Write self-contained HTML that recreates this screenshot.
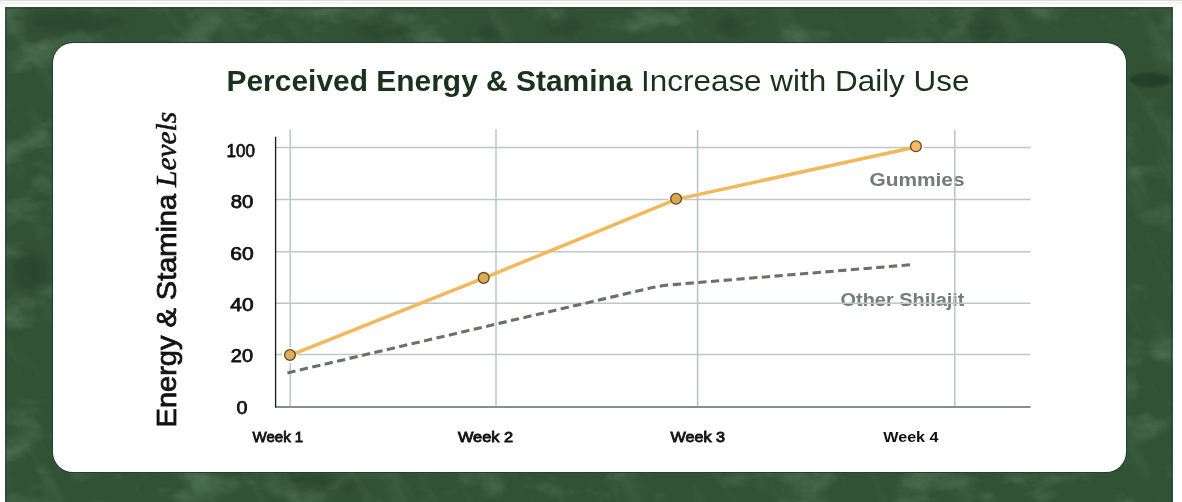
<!DOCTYPE html>
<html><head><meta charset="utf-8"><title>Perceived Energy &amp; Stamina</title>
<style>
html,body{margin:0;padding:0;background:#fff;width:1182px;height:502px;overflow:hidden}
#topline{position:absolute;left:0;top:0;width:1182px;height:1px;background:#e0dbcb}
#topline2{position:absolute;left:0;top:2px;width:1182px;height:2px;background:#f1f5f1}
#card{position:absolute;left:53px;top:43px;width:1073px;height:429px;background:#fff;border-radius:20px;box-shadow:0 0 0 1px #22402a}
svg{position:absolute;left:0;top:0}
text{font-family:"Liberation Sans",Arial,sans-serif}
</style></head>
<body>
<div id="topline"></div><div id="topline2"></div>
<svg id="bgsvg" width="1182" height="502" viewBox="0 0 1182 502">
  <defs>
    <filter id="tdark" x="0" y="0" width="100%" height="100%">
      <feTurbulence type="fractalNoise" baseFrequency="0.018 0.03" numOctaves="4" seed="11"/>
      <feColorMatrix type="matrix" values="0 0 0 0 0.13  0 0 0 0 0.25  0 0 0 0 0.15  2.6 0 0 0 -1.35"/>
    </filter>
    <filter id="tlight" x="0" y="0" width="100%" height="100%">
      <feTurbulence type="fractalNoise" baseFrequency="0.05 0.012" numOctaves="4" seed="4"/>
      <feColorMatrix type="matrix" values="0 0 0 0 0.33  0 0 0 0 0.5  0 0 0 0 0.35  0 2.4 0 0 -1.3"/>
    </filter>
    <filter id="bl2" x="-20%" y="-20%" width="140%" height="140%"><feGaussianBlur stdDeviation="1.5"/></filter>
    <filter id="bl4" x="-50%" y="-50%" width="200%" height="200%"><feGaussianBlur stdDeviation="4"/></filter>
    <clipPath id="bgclip"><rect x="5" y="7" width="1168" height="495"/></clipPath>
  </defs>
  <rect x="5" y="7" width="1168" height="495" fill="#325236"/>
  <g clip-path="url(#bgclip)">
    <rect x="5" y="7" width="1168" height="495" filter="url(#tdark)" opacity="0.55"/>
    <g transform="rotate(-30 590 254)"><rect x="-200" y="-300" width="1600" height="1100" filter="url(#tlight)" opacity="0.11"/></g>
    <ellipse cx="1150" cy="80" rx="21" ry="7" fill="#243d27" filter="url(#bl2)" opacity="0.9"/>
    <g filter="url(#bl4)" fill="#223a25" opacity="0.45">
      <ellipse cx="383" cy="30" rx="26" ry="10"/>
      <ellipse cx="488" cy="33" rx="12" ry="8"/>
      <ellipse cx="564" cy="27" rx="18" ry="10"/>
      <ellipse cx="732" cy="26" rx="15" ry="10"/>
      <ellipse cx="982" cy="30" rx="16" ry="11"/>
      <ellipse cx="70" cy="22" rx="55" ry="10"/>
      <ellipse cx="30" cy="272" rx="18" ry="20"/>
      <ellipse cx="310" cy="484" rx="22" ry="9"/>
      <ellipse cx="348" cy="486" rx="8" ry="7"/>
    </g>
  </g>
  <g fill="#24432a" opacity="0.85">
    <rect x="5.5" y="7.5" width="1" height="494.5"/>
    <rect x="1171" y="7.5" width="1" height="494.5"/>
    <rect x="5.5" y="7.5" width="1166.5" height="1"/>
  </g>
</svg>
<div id="card"></div>
<svg width="1182" height="502" viewBox="0 0 1182 502">
  <!-- title -->
  <text x="226.5" y="90.6" font-size="29.5" font-weight="700" fill="#18321c" textLength="406" lengthAdjust="spacingAndGlyphs">Perceived Energy &amp; Stamina</text>
  <text x="641" y="90.6" font-size="29.5" font-weight="400" fill="#18321c" textLength="328.5" lengthAdjust="spacingAndGlyphs">Increase with Daily Use</text>

  <!-- y axis title -->
  <g transform="translate(175.5,427.4) rotate(-90)">
    <text x="0" y="0" font-size="27" font-weight="400" fill="#111" stroke="#111" stroke-width="0.75" textLength="233.5" lengthAdjust="spacingAndGlyphs">Energy &amp; Stamina</text>
    <text x="240.5" y="0" font-size="28.5" font-style="italic" fill="#111" stroke="#111" stroke-width="0.55" style="font-family:'Liberation Serif',serif" textLength="75" lengthAdjust="spacingAndGlyphs">Levels</text>
  </g>

  <!-- series labels -->
  <text x="869.5" y="185.7" font-size="18" font-weight="700" fill="#737c78" textLength="95" lengthAdjust="spacingAndGlyphs">Gummies</text>
  <text x="840.5" y="305.5" font-size="18" font-weight="700" fill="#737c78" textLength="124" lengthAdjust="spacingAndGlyphs">Other Shilajit</text>

  <!-- grid -->
  <g stroke="#bec7c5" stroke-width="1.5" fill="none">
    <line x1="276" y1="147.4" x2="1030.5" y2="147.4"/>
    <line x1="276" y1="199.6" x2="1030.5" y2="199.6"/>
    <line x1="276" y1="251.8" x2="1030.5" y2="251.8"/>
    <line x1="276" y1="303.3" x2="1030.5" y2="303.3"/>
    <line x1="276" y1="354.6" x2="1030.5" y2="354.6"/>
    <line x1="290.2" y1="129.5" x2="290.2" y2="406" stroke="#b8c7c4"/>
    <line x1="496" y1="129.2" x2="496" y2="406" stroke="#b8c7c4"/>
    <line x1="697.6" y1="129.9" x2="697.6" y2="406" stroke="#b3c4c0"/>
    <line x1="954.8" y1="130" x2="954.8" y2="406" stroke="#b5c6c2"/>
  </g>
  <!-- axes -->
  <line x1="275" y1="406.9" x2="1030.6" y2="406.9" stroke="#84908c" stroke-width="2"/>
  <line x1="275.6" y1="136.8" x2="275.6" y2="407.6" stroke="#1f1f19" stroke-width="1.35"/>

  <!-- y labels -->
  <g font-size="18" font-weight="400" fill="#111" stroke="#111" stroke-width="0.75">
    <text x="226.6" y="156.5" textLength="28.4" lengthAdjust="spacingAndGlyphs">100</text>
    <text x="230.8" y="208.1" textLength="22.6" lengthAdjust="spacingAndGlyphs">80</text>
    <text x="230.2" y="259.6" textLength="23.4" lengthAdjust="spacingAndGlyphs">60</text>
    <text x="230.3" y="311" textLength="23.2" lengthAdjust="spacingAndGlyphs">40</text>
    <text x="230.8" y="362.1" textLength="22.2" lengthAdjust="spacingAndGlyphs">20</text>
    <text x="236.5" y="413.5" textLength="11" lengthAdjust="spacingAndGlyphs">0</text>
  </g>

  <!-- x labels -->
  <g font-size="15" font-weight="400" fill="#111" stroke="#111" stroke-width="0.85">
    <text x="252.6" y="441.5" textLength="50.6" lengthAdjust="spacingAndGlyphs">Week 1</text>
    <text x="457.9" y="441.6" textLength="55.2" lengthAdjust="spacingAndGlyphs">Week 2</text>
    <text x="670.4" y="441.6" textLength="54.6" lengthAdjust="spacingAndGlyphs">Week 3</text>
    <text x="883.2" y="441.6" textLength="55.4" lengthAdjust="spacingAndGlyphs" font-size="15" font-weight="700" stroke="none">Week 4</text>
  </g>

  <!-- dashed other shilajit -->
  <path d="M287.4 372.9 L650 288.1 Q660 285.7 672 284.7 L910.2 264.8" fill="none" stroke="#6c706b" stroke-width="3.1" stroke-dasharray="8.3 4.457"/>

  <g stroke="#fff" stroke-width="2" fill="#fff" opacity="0.9">
    <circle cx="290" cy="355" r="7"/>
    <circle cx="483.7" cy="277.9" r="7"/>
    <circle cx="676.1" cy="198.8" r="7"/>
    <circle cx="915.9" cy="146.3" r="7"/>
  </g>
  <!-- gummies line -->
  <polyline points="290,355.3 483.7,278.1 676.1,199.4 915.9,147" fill="none" stroke="#f3b85c" stroke-width="3.5" stroke-linejoin="round"/>
  <g stroke="#5e4a2e" stroke-width="1.3">
    <circle cx="290" cy="355" r="5.4" fill="#dfac58"/>
    <circle cx="483.7" cy="277.9" r="5.4" fill="#dcaa55"/>
    <circle cx="676.1" cy="198.8" r="5.4" fill="#dba650"/>
    <circle cx="915.9" cy="146.3" r="5.4" fill="#f5b961"/>
  </g>

</svg>
</body></html>
